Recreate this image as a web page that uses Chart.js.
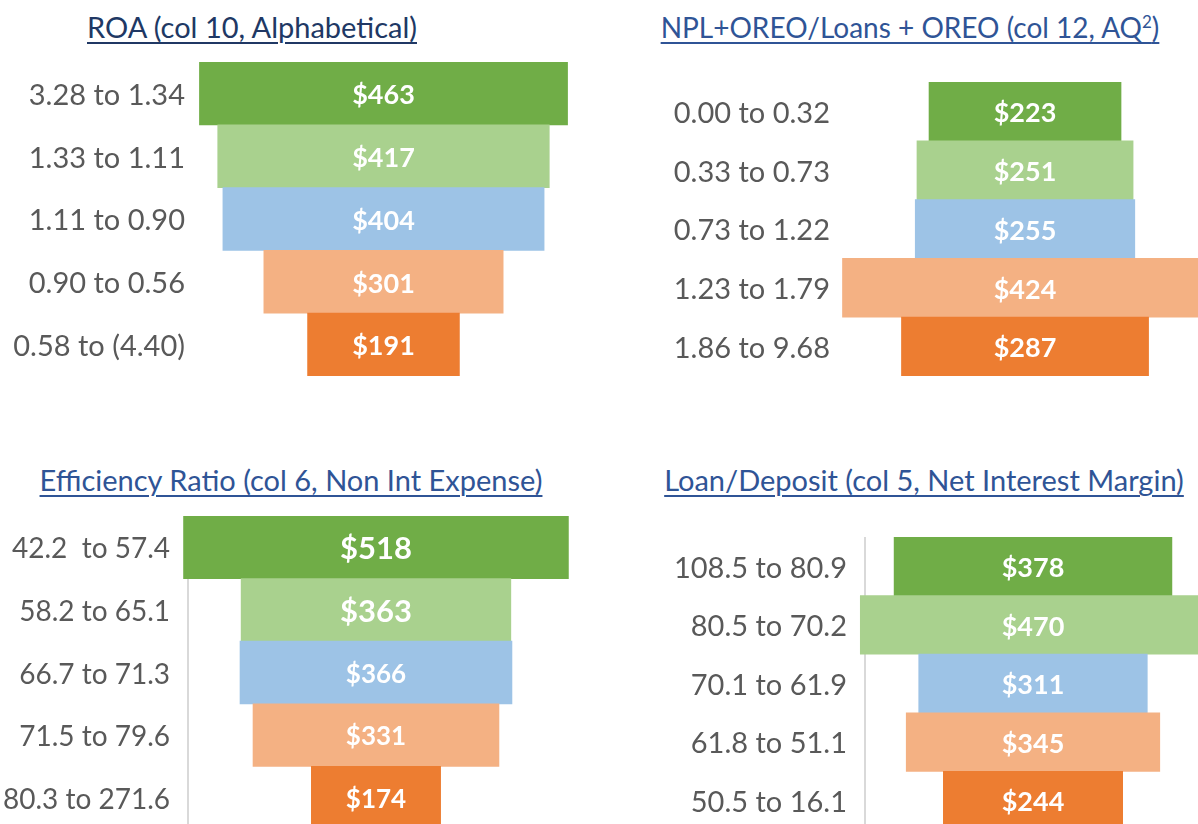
<!DOCTYPE html>
<html>
<head>
<meta charset="utf-8">
<script src="https://cdn.jsdelivr.net/npm/chart.js@4.4.1/dist/chart.umd.min.js"></script>
<style>
    body { margin: 0; width: 1198px; height: 824px; overflow: hidden; background: #fff; position: relative; font-family: Lato, sans-serif; }
    .title { position: absolute; transform: translateX(-50%); white-space: nowrap; font-size: 29px; line-height: 34px;
             text-decoration: underline; text-decoration-thickness: 2px; text-underline-offset: 4px; }
    .title sup { font-size: 17px; line-height: 0; }
    .box { position: absolute; line-height: 0; }
</style>
</head>
<body>

<div class="title" style="left:252px; top:10px; color:#203864;">ROA (col 10, Alphabetical)</div>
<div class="title" style="left:910px; top:10px; color:#2F5496; font-size:28px;">NPL+OREO/Loans + OREO (col 12, AQ<sup>2</sup>)</div>
<div class="title" style="left:291px; top:463px; color:#2F5496;">Efficiency Ratio (col 6, Non Int Expense)</div>
<div class="title" style="left:924px; top:463px; color:#2F5496;">Loan/Deposit (col 5, Net Interest Margin)</div>

<div class="box" style="left:0px; top:62px;"><canvas id="roaChart" width="600" height="314"></canvas></div>
<div class="box" style="left:600px; top:82px;"><canvas id="nplChart" width="598" height="294"></canvas></div>
<div class="box" style="left:0px; top:516px;"><canvas id="effChart" width="600" height="313"></canvas></div>
<div class="box" style="left:600px; top:537px;"><canvas id="ldChart" width="598" height="293"></canvas></div>

<script>
// DATA

const roaLabels = ['3.28 to 1.34', '1.33 to 1.11', '1.11 to 0.90', '0.90 to 0.56', '0.58 to (4.40)'];
const roaValues = [463, 417, 404, 301, 191];

const nplLabels = ['0.00 to 0.32', '0.33 to 0.73', '0.73 to 1.22', '1.23 to 1.79', '1.86 to 9.68'];
const nplValues = [223, 251, 255, 424, 287];

const effLabels = ['42.2  to 57.4', '58.2 to 65.1', '66.7 to 71.3', '71.5 to 79.6', '80.3 to 271.6'];
const effValues = [518, 363, 366, 331, 174];

const ldLabels = ['108.5 to 80.9', '80.5 to 70.2', '70.1 to 61.9', '61.8 to 51.1', '50.5 to 16.1'];
const ldValues = [378, 470, 311, 345, 244];

const funnelColors = ['#70AD47', '#A9D18E', '#9DC3E6', '#F4B183', '#ED7D31'];

// VALUE LABELS IN THE MIDDLE OF EACH BAR

const valueLabels = {
    id: 'valueLabels',
    afterDatasetsDraw(chart, args, opts) {
        const ctx = chart.ctx;
        const meta = chart.getDatasetMeta(0);
        const ds = chart.data.datasets[0];
        ctx.save();
        ctx.fillStyle = '#fff';
        ctx.textAlign = 'center';
        ctx.textBaseline = 'middle';
        meta.data.forEach((bar, i) => {
            const raw = ds.data[i];
            const value = Math.round(raw[1] - raw[0]);
            ctx.font = 'bold ' + opts.sizes[i] + 'px Lato';
            ctx.fillText('$' + value, (bar.x + bar.base) / 2, bar.y + 2);
        });
        ctx.restore();
    }
};

// FUNNEL = FLOATING HORIZONTAL BARS CENTRED ON ZERO

function makeFunnel(id, labels, values, cfg) {
    const ctx = document.getElementById(id).getContext('2d');
    return new Chart(ctx, {
        type: 'bar',
        data: {
            labels: labels,
            datasets: [{
                data: values.map(v => [-v / 2, v / 2]),
                backgroundColor: funnelColors,
                barPercentage: 1,
                categoryPercentage: 1,
                clip: false
            }]
        },
        options: {
            indexAxis: 'y',
            responsive: false,
            animation: false,
            layout: { padding: 0 },
            plugins: {
                legend: { display: false },
                tooltip: { enabled: false },
                valueLabels: { sizes: cfg.sizes }
            },
            scales: {
                x: { type: 'linear', display: false, min: cfg.xmin, max: cfg.xmax },
                y: {
                    z: cfg.axisLine ? 1 : 0,
                    grid: { display: false, drawTicks: false },
                    border: { display: cfg.axisLine, color: '#D9D9D9', width: 2 },
                    ticks: {
                        color: '#595959', padding: cfg.pad, labelOffset: 2,
                        font: { family: 'Lato', size: cfg.labelSize || 29 }
                    },
                    afterFit(scale) {
                        scale.width = cfg.axisWidth;
                        scale.paddingTop = 0;
                        scale.paddingBottom = 0;
                    }
                }
            }
        },
        plugins: [valueLabels]
    });
}

makeFunnel('roaChart', roaLabels, roaValues, {
    axisWidth: 200, pad: 15, xmin: -230.8, xmax: 272.3, axisLine: false, sizes: [27, 27, 27, 27, 27]
});
makeFunnel('nplChart', nplLabels, nplValues, {
    axisWidth: 240, pad: 10, xmin: -214.9, xmax: 200.9, axisLine: false, sizes: [27, 27, 27, 27, 27]
});
makeFunnel('effChart', effLabels, effValues, {
    axisWidth: 188, pad: 18, xmin: -253, xmax: 301.5, axisLine: true, labelSize: 28, sizes: [31, 31, 26, 26, 26]
});
makeFunnel('ldChart', ldLabels, ldValues, {
    axisWidth: 265, pad: 18, xmin: -228.6, xmax: 224.5, axisLine: true, sizes: [27, 27, 27, 27, 27]
});
</script>
</body>
</html>
